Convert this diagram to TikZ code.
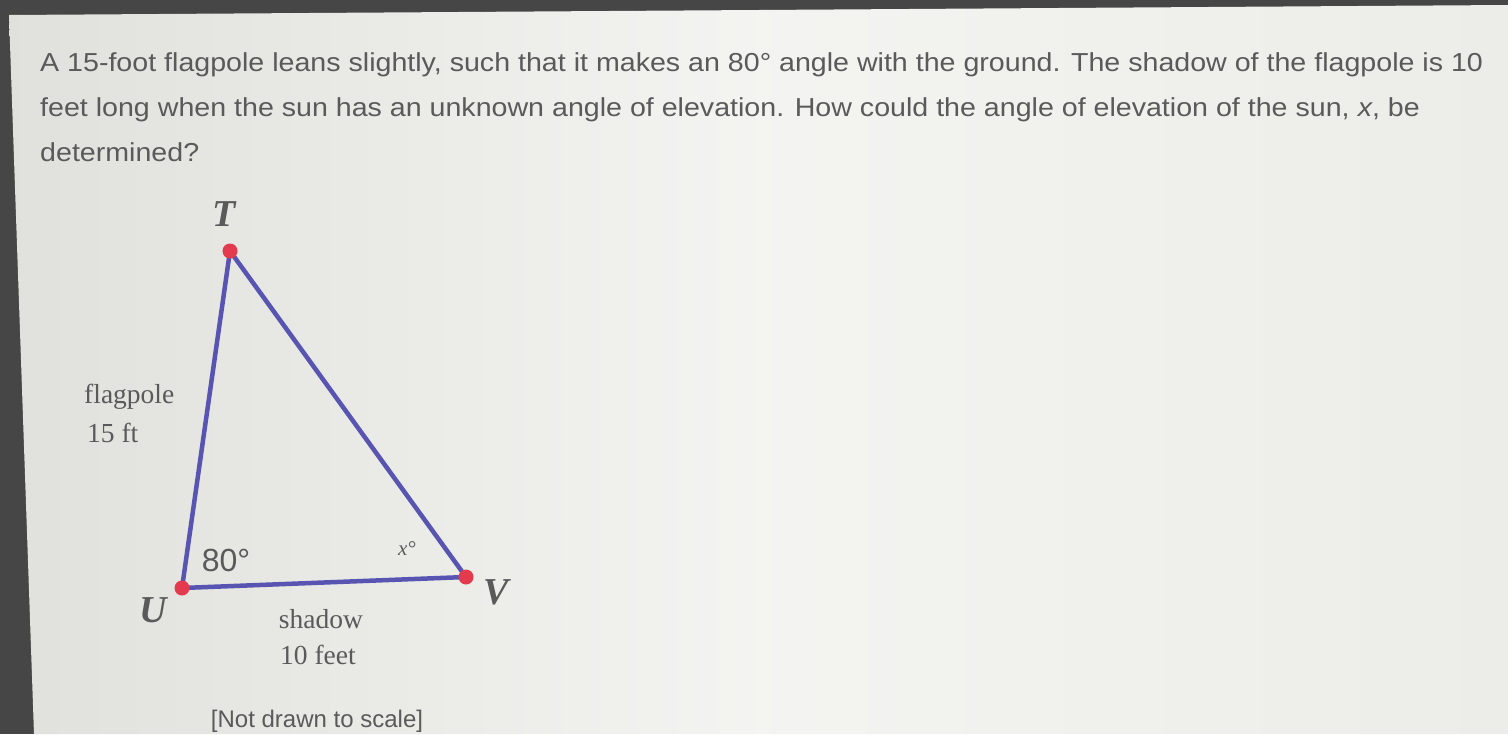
\documentclass[tikz,border=0pt]{standalone}
\usepackage{fontspec}
\setmainfont{Liberation Serif}
\setsansfont{Liberation Sans}
\definecolor{frame}{RGB}{70,70,70}
\definecolor{paper}{RGB}{236,236,232}
\definecolor{ink}{RGB}{90,90,90}
\definecolor{edge}{RGB}{88,84,178}
\definecolor{dot}{RGB}{228,58,78}
\tikzset{
  qtext/.style={anchor=base west, inner sep=0, text=ink, xscale=1.1, transform shape, font=\sffamily\fontsize{26}{28}\selectfont},
  vlabel/.style={inner sep=0, text=ink, font=\rmfamily\itshape\bfseries\fontsize{38}{40}\selectfont},
  slabel/.style={inner sep=0, text=ink, font=\rmfamily\fontsize{27.5}{29}\selectfont},
  side/.style={draw=edge, line width=4.5pt, line cap=round},
  pt/.style={circle, fill=dot, minimum size=15pt, inner sep=0}
}
\begin{document}
\begin{tikzpicture}[x=1pt,y=-1pt]
\useasboundingbox (0,0) rectangle (1508,734);
\fill[frame] (0,0) rectangle (1508,734);
\shade[left color=paper!95!black, right color=paper, middle color=paper!60!white] (9,15) -- (1508,5) -- (1508,734) -- (34,734) -- cycle;
\node[qtext] (l1) at (40,71) {A 15-foot flagpole leans slightly, such that it makes an 80\textdegree\ angle with the ground. The shadow of the flagpole is 10};
\node[qtext] (l2) at (40,116) {feet long when the sun has an unknown angle of elevation. How could the angle of elevation of the sun, \textit{x}, be};
\node[qtext] (l3) at (40,161) {determined?};
\coordinate (T) at (230,251);
\coordinate (U) at (182,588);
\coordinate (V) at (466,577);
\draw[side] (T) -- (U) -- (V) -- cycle;
\node[pt] (pT) at (T) {};
\node[pt] (pU) at (U) {};
\node[pt] (pV) at (V) {};
\node[vlabel] (lT) at (224,214) {T};
\node[vlabel] (lU) at (153,610) {U};
\node[vlabel] (lV) at (496,592) {V};
\node[slabel, anchor=west] (fp) at (84,397) {flagpole};
\node[slabel, anchor=west] (ft) at (87,433) {15 ft};
\node[inner sep=0, text=ink, font=\sffamily\fontsize{32}{34}\selectfont] (a80) at (226,560) {80\textdegree};
\node[inner sep=0, text=ink, font=\rmfamily\itshape\fontsize{21}{22}\selectfont] (ax) at (407,549) {x\textdegree};
\node[slabel] (sh) at (321,619) {shadow};
\node[slabel] (tf) at (318,655) {10 feet};
\node[inner sep=0, text=ink, font=\sffamily\fontsize{24}{26}\selectfont] (nd) at (317,721) {[Not drawn to scale]};
\end{tikzpicture}
\end{document}
